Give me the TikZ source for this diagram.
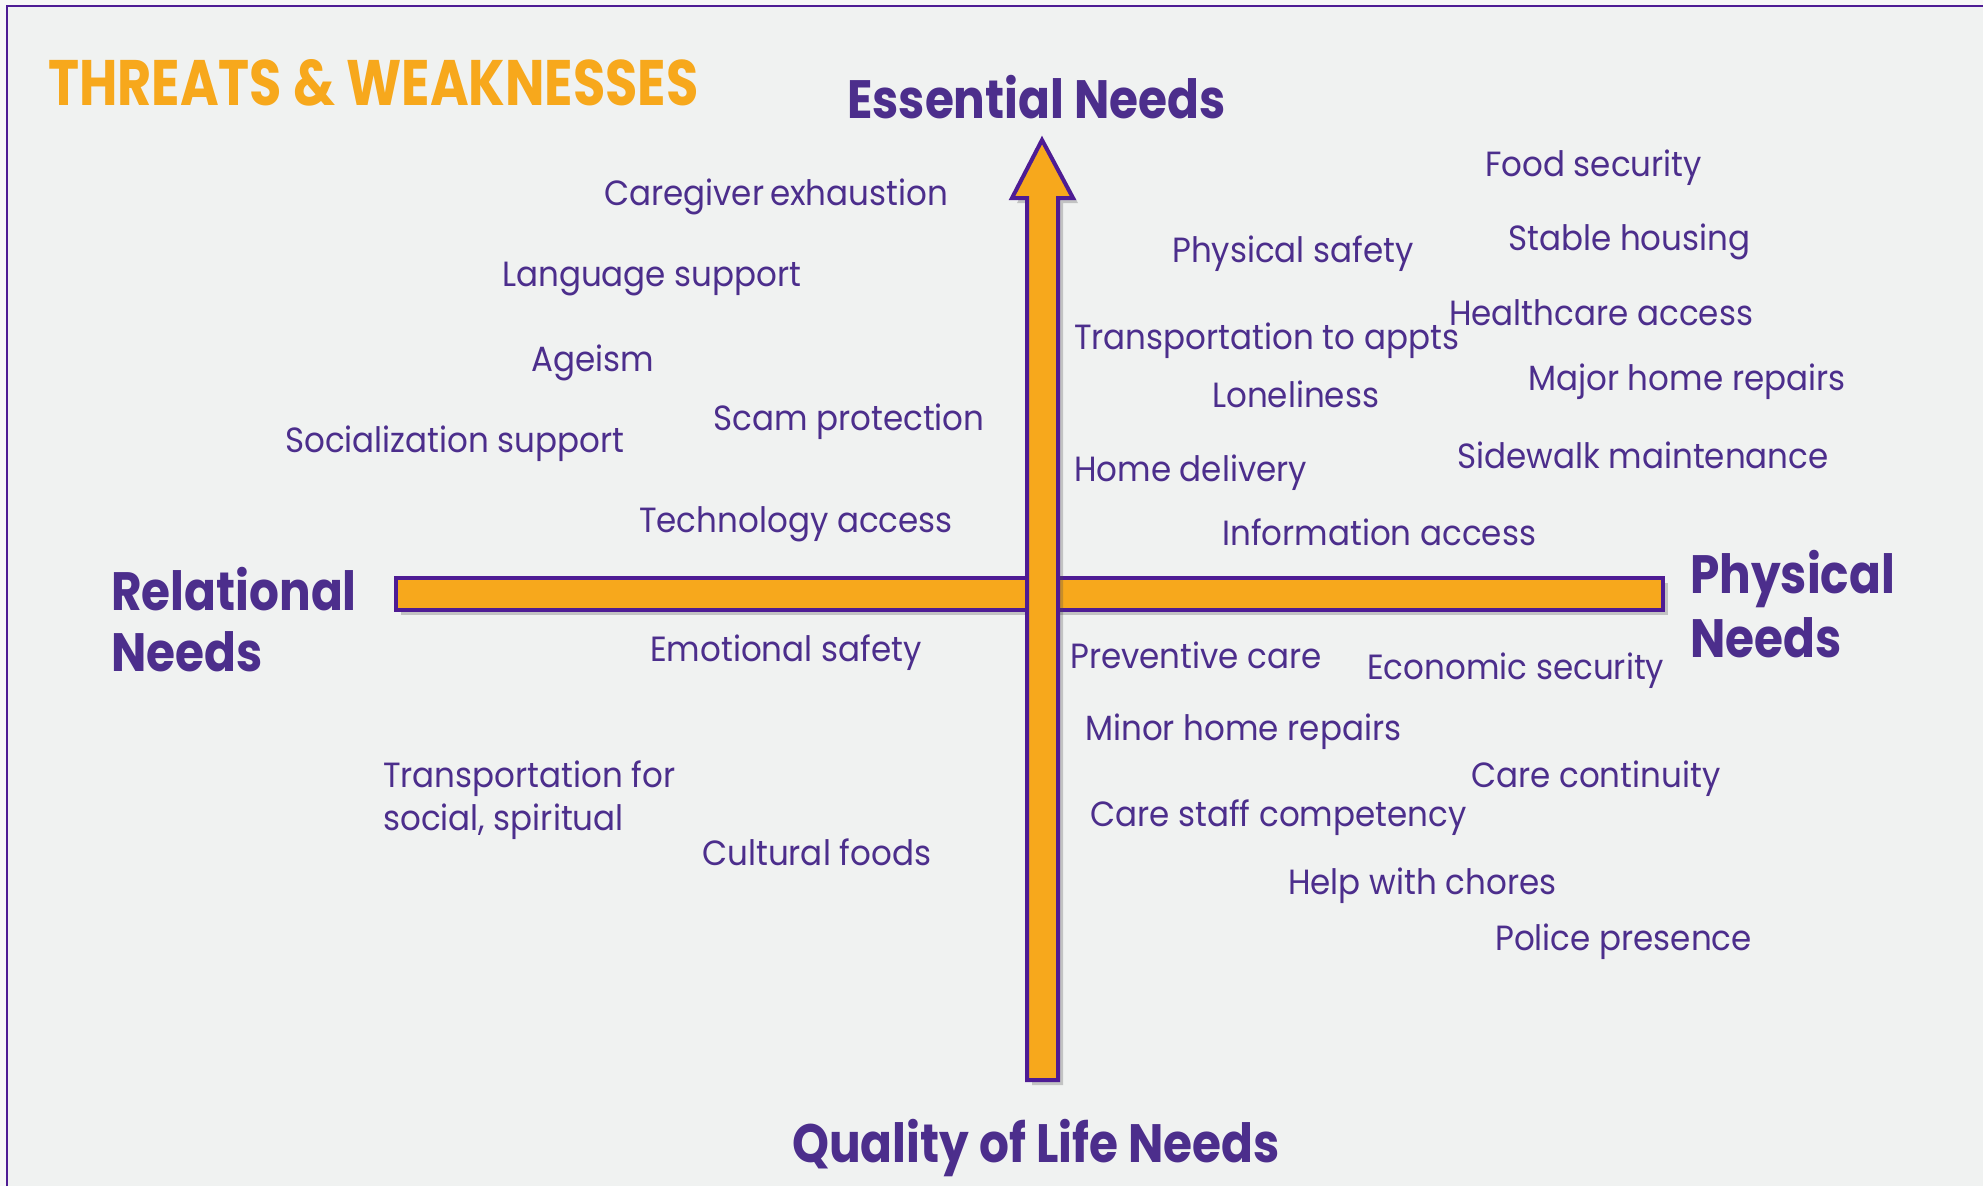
\documentclass[tikz,border=0pt]{standalone}
\usepackage{graphicx}
\usepackage{fontspec}
\setmainfont{Poppins}
\newfontfamily\bodyfont[FakeStretch=0.93]{Poppins}
\newfontfamily\headfont[FakeStretch=0.87]{Poppins}
\newfontfamily\titlefont{Poppins}
\usetikzlibrary{shadows}
\definecolor{tpurple}{RGB}{76,46,140}
\definecolor{bpurple}{RGB}{78,28,148}
\definecolor{aorange}{RGB}{247,168,28}
\definecolor{bgin}{RGB}{240,242,241}
\definecolor{bgout}{RGB}{247,247,247}
\tikzset{
  lbl/.style={anchor=base west, inner sep=0pt, text=tpurple, font=\bodyfont\fontsize{35}{42}\selectfont},
  hdr/.style={anchor=base west, inner sep=0pt, text=tpurple, font=\headfont\bfseries\fontsize{54}{60}\selectfont},
  barshape/.style={fill=aorange, draw=bpurple, line width=4pt, line join=miter,
    drop shadow={shadow xshift=5pt, shadow yshift=-5pt, opacity=0.28, fill=black!70}},
  frame/.style={draw=bpurple, line width=2.2pt}
}
\begin{document}
\begin{tikzpicture}[x=1pt, y=-1pt]
\useasboundingbox (0,0) rectangle (1983,1186);
\fill[bgout] (0,0) rectangle (1983,1186);
\fill[bgin] (7,6) rectangle (1983,1186);
\draw[frame] (7,1186) -- (7,6) -- (1983,6);
% axes
\draw[barshape] (396,578) rectangle (1663,610);
\draw[barshape] (1042,140) -- (1073,198) -- (1058,198) -- (1058,1080) -- (1027,1080) -- (1027,198) -- (1012,198) -- cycle;
% title
\node[anchor=base west, inner sep=0pt, text=aorange] (title) at (48,105)
  {\resizebox{650pt}{46pt}{\titlefont\bfseries THREATS \& WEAKNESSES}};
% headers
\node[hdr] (ess) at (847,118) {Essential Needs};
\node[hdr] (rel1) at (111,610) {Relational};
\node[hdr] (rel2) at (111,671) {Needs};
\node[hdr] (phy1) at (1690,593) {Physical};
\node[hdr] (phy2) at (1690,657) {Needs};
\node[hdr] (qol) at (792,1162) {Quality of Life Needs};
% left side
\node[lbl] (care) at (604,205) {Caregiver\,exhaustion};
\node[lbl] (lang) at (502,286) {Language support};
\node[lbl] (age) at (531,371) {Ageism};
\node[lbl] (soc) at (285,452) {Socialization support};
\node[lbl] (scam) at (713,430) {Scam protection};
\node[lbl] (tech) at (639,532) {Technology access};
\node[lbl] (emo) at (650,661) {Emotional safety};
\node[lbl] (tsp1) at (383,787) {Transportation for};
\node[lbl] (tsp2) at (383,830) {social, spiritual};
\node[lbl] (cult) at (702,865) {Cultural foods};
% right side
\node[lbl] (food) at (1485,176) {Food security};
\node[lbl] (psafe) at (1172,262) {Physical safety};
\node[lbl] (house) at (1508,250) {Stable housing};
\node[lbl] (health) at (1449,325) {Healthcare access};
\node[lbl] (tappt) at (1074,349) {Transportation to appts};
\node[lbl] (major) at (1528,390) {Major home repairs};
\node[lbl] (lone) at (1212,407) {Loneliness};
\node[lbl] (deliv) at (1074,481) {Home delivery};
\node[lbl] (side) at (1457,468) {Sidewalk maintenance};
\node[lbl] (info) at (1222,545) {Information access};
\node[lbl] (prev) at (1070,668) {Preventive care};
\node[lbl] (econ) at (1367,679) {Economic security};
\node[lbl] (minor) at (1085,740) {Minor home repairs};
\node[lbl] (cont) at (1471,787) {Care continuity};
\node[lbl] (staff) at (1090,826) {Care staff competency};
\node[lbl] (chores) at (1288,894) {Help with chores};
\node[lbl] (police) at (1495,950) {Police presence};
\end{tikzpicture}
\end{document}
